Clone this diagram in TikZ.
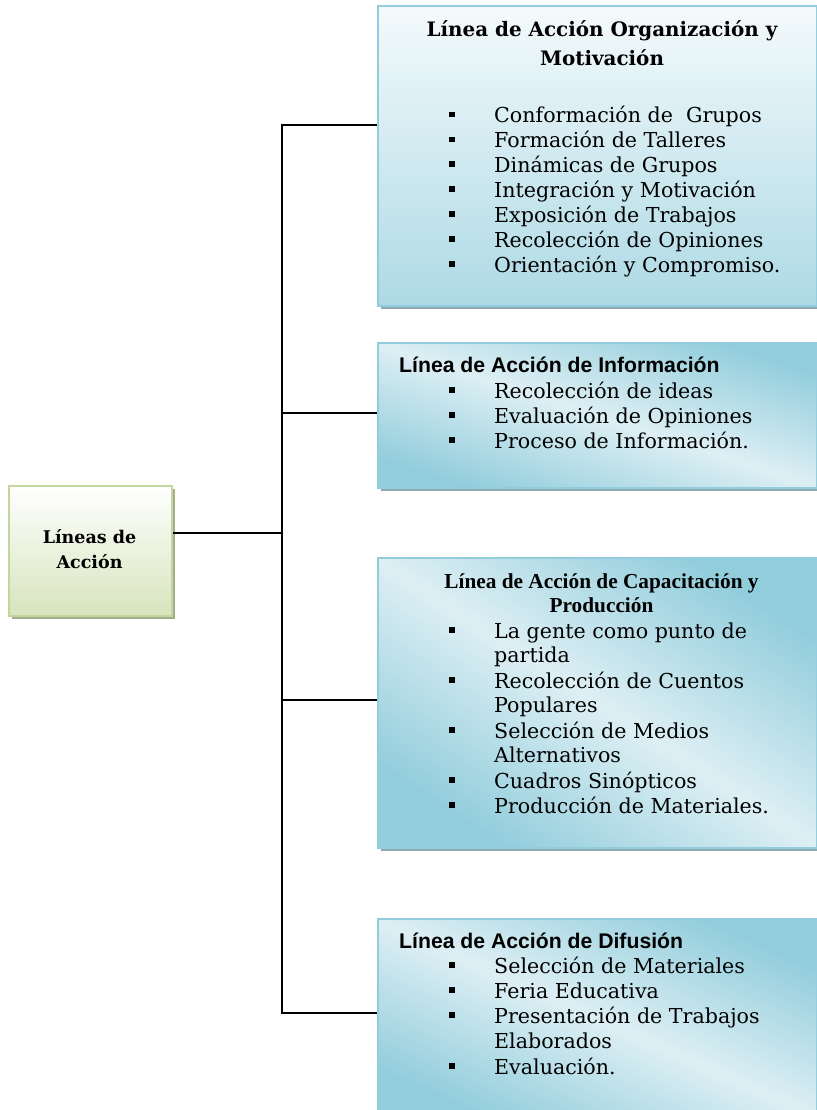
\documentclass[tikz,border=0pt]{standalone}
\usepackage{fontspec}
\setmainfont{DejaVu Serif}
\newfontfamily\sansf{Liberation Sans}
\newfontfamily\timesf{Liberation Serif}
\usetikzlibrary{shadows}
\definecolor{bdark}{HTML}{92CDDC}
\definecolor{blight}{HTML}{DDEFF4}
\definecolor{btop}{HTML}{F4FAFC}
\definecolor{bborder}{HTML}{93CDDD}
\definecolor{bshadow}{HTML}{8FA9B1}
\definecolor{gborder}{HTML}{C3D69B}
\definecolor{gfill}{HTML}{D7E4BD}
\definecolor{gshadow}{HTML}{A3AE8E}
\begin{document}
\begin{tikzpicture}[x=1pt,y=-1pt,
  bluebox/.style={draw=bborder, line width=1.8pt, anchor=north west, inner sep=0pt,
    drop shadow={shadow xshift=3pt, shadow yshift=-3.5pt, fill=bshadow, opacity=1}},
  diag/.style={bluebox, top color=bdark, bottom color=bdark, middle color=blight, shading angle=#1},
  vert/.style={bluebox, top color=btop, bottom color=bdark!75},
  rootbox/.style={draw=gborder, line width=1.8pt, anchor=north west, inner sep=0pt,
    top color=white, bottom color=gfill,
    drop shadow={shadow xshift=3pt, shadow yshift=-3.5pt, fill=gshadow, opacity=1}},
  conn/.style={draw=black, line width=2pt},
  itm/.style={anchor=base west, inner sep=0pt, font=\fontsize{20.6}{24}\selectfont},
  bul/.style={anchor=base west, inner sep=0pt},
  ttl/.style={anchor=base, inner sep=0pt, font=\fontsize{19.9}{24}\selectfont\bfseries},
  ttls/.style={anchor=base west, inner sep=0pt, font=\fontsize{21.2}{24}\sansf\bfseries},
  ttlt/.style={anchor=base, inner sep=0pt, font=\fontsize{21.3}{24}\timesf\bfseries},
  rtxt/.style={anchor=base, inner sep=0pt, font=\fontsize{17.5}{20}\selectfont\bfseries},
]
\useasboundingbox (0,0) rectangle (816,1110);
\newcommand{\bsq}{\rule[5.5pt]{5.7pt}{5.7pt}}

% root
\node[rootbox, minimum width=163pt, minimum height=130pt] (root) at (8,485) {};
\node[rtxt] (r1) at (89.5,543) {Líneas de};
\node[rtxt] (r2) at (89.5,568) {Acción};

% boxes
\node[vert, minimum width=439pt, minimum height=300pt] (b1) at (377,5) {};
\node[diag=-18, minimum width=439pt, minimum height=145pt] (b2) at (377,342) {};
\node[diag=-33, minimum width=439pt, minimum height=290pt] (b3) at (377,557) {};
\node[diag=-24, minimum width=439pt, minimum height=200pt] (b4) at (377,918) {};

% connectors
\coordinate (j0) at (282,533);
\coordinate (jt) at (282,125);
\coordinate (j2) at (282,413);
\coordinate (j3) at (282,700);
\coordinate (jb) at (282,1013);
\draw[conn] (j0 -| root.east) -- (j0);
\draw[conn, line cap=rect] (jt) -- (jb);
\draw[conn] (jt) -- (jt -| b1.west);
\draw[conn] (j2) -- (j2 -| b2.west);
\draw[conn] (j3) -- (j3 -| b3.west);
\draw[conn] (jb) -- (jb -| b4.west);

% box 1
\node[ttl] (t1a) at (602,37) {Línea de Acción Organización y};
\node[ttl] (t1b) at (602,66) {Motivación};
\foreach \y/\t [count=\i] in {123/{Conformación de\ \ Grupos},148/{Formación de Talleres},172/{Dinámicas de Grupos},197/{Integración y Motivación},222/{Exposición de Trabajos},247/{Recolección de Opiniones},272/{Orientación y Compromiso.}}{
  \node[bul] (b1s\i) at (449,\y) {\bsq};
  \node[itm] (b1i\i) at (494,\y) {\t};
}

% box 2
\node[ttls] (t2) at (399,372) {Línea de Acción de Información};
\foreach \y/\t [count=\i] in {398/{Recolección de ideas},423/{Evaluación de Opiniones},448/{Proceso de Información.}}{
  \node[bul] (b2s\i) at (449,\y) {\bsq};
  \node[itm] (b2i\i) at (494,\y) {\t};
}

% box 3
\node[ttlt] (t3a) at (601.5,588) {Línea de Acción de Capacitación y};
\node[ttlt] (t3b) at (601.5,612) {Producción};
\foreach \y [count=\i] in {638,688,738,788,813}{
  \node[bul] (b3s\i) at (449,\y) {\bsq};
}
\foreach \y/\t [count=\i] in {638/{La gente como punto de},662/{partida},688/{Recolección de Cuentos},712/{Populares},738/{Selección de Medios},762/{Alternativos},788/{Cuadros Sinópticos},813/{Producción de Materiales.}}{
  \node[itm] (b3i\i) at (494,\y) {\t};
}

% box 4
\node[ttls] (t4) at (399,948) {Línea de Acción de Difusión};
\foreach \y [count=\i] in {973,998,1023,1074}{
  \node[bul] (b4s\i) at (449,\y) {\bsq};
}
\foreach \y/\t [count=\i] in {973/{Selección de Materiales},998/{Feria Educativa},1023/{Presentación de Trabajos},1048/{Elaborados},1074/{Evaluación.}}{
  \node[itm] (b4i\i) at (494,\y) {\t};
}
\end{tikzpicture}
\end{document}
